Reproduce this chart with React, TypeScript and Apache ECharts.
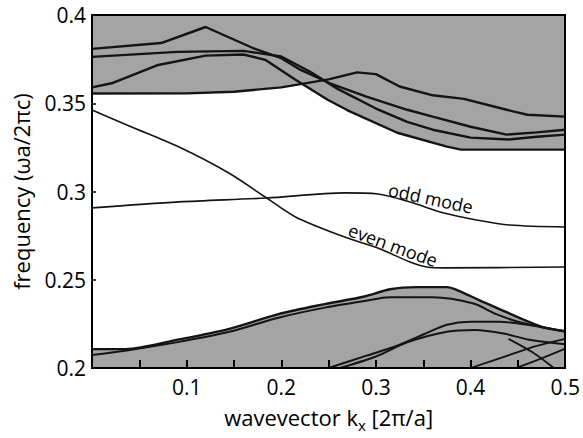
import { useEffect, useRef } from 'react';
import * as echarts from 'echarts';

const xTickLabels = ['0.1', '0.2', '0.3', '0.4', '0.5'];
const yTickLabels = ['0.2', '0.25', '0.3', '0.35', '0.4'];

// upper continuum (light-line region) lower edge
const topBandEdge = [[0, 0.3555], [0.1, 0.3556], [0.15, 0.3565], [0.2, 0.359], [0.222, 0.3607], [0.249, 0.352], [0.27, 0.346], [0.3225, 0.3333], [0.375, 0.3254], [0.39, 0.3237], [0.5, 0.3237]];
const bandB = [[0, 0.3555], [0.1, 0.3556], [0.15, 0.3565], [0.2, 0.359], [0.25, 0.3635], [0.28, 0.3675], [0.3, 0.3665], [0.325, 0.3595], [0.36, 0.3545], [0.393, 0.3525], [0.438, 0.3463], [0.46, 0.3435], [0.5, 0.3424]];
const bandL1 = [[0, 0.3808], [0.073, 0.3841], [0.12, 0.3932], [0.17, 0.3813], [0.2, 0.3755], [0.22, 0.369], [0.25, 0.3616], [0.29, 0.3537], [0.333, 0.3463], [0.36, 0.3424], [0.4, 0.3367], [0.438, 0.3322], [0.47, 0.3335], [0.5, 0.335]];
const bandC = [[0, 0.3763], [0.09, 0.3791], [0.16, 0.3797], [0.2, 0.3765], [0.23, 0.368], [0.26, 0.358], [0.3, 0.347], [0.333, 0.3395], [0.36, 0.335], [0.4, 0.3305], [0.44, 0.3295], [0.47, 0.331], [0.5, 0.3322]];
const bandD = [[0, 0.359], [0.022, 0.3615], [0.07, 0.3717], [0.12, 0.377], [0.16, 0.3776], [0.183, 0.3746], [0.215, 0.3633], [0.249, 0.352], [0.27, 0.346], [0.3225, 0.3333], [0.375, 0.3254], [0.39, 0.3237], [0.5, 0.3237]];

// lower continuum
const bandBT1 = [[0, 0.2107], [0.035, 0.2107], [0.092, 0.2162], [0.145, 0.2222], [0.197, 0.2305], [0.246, 0.2362], [0.288, 0.2405], [0.315, 0.2446], [0.343, 0.2458], [0.375, 0.2458], [0.385, 0.2443], [0.409, 0.2385], [0.438, 0.2316], [0.476, 0.2232], [0.5, 0.2209]];
const bandBT2 = [[0, 0.2073], [0.035, 0.2098], [0.092, 0.2148], [0.145, 0.2205], [0.197, 0.2285], [0.246, 0.2342], [0.288, 0.238], [0.315, 0.2401], [0.36, 0.2401], [0.403, 0.2365], [0.427, 0.2305], [0.455, 0.2255], [0.5, 0.2209]];
const bandBR1 = [[0.25, 0.2], [0.29, 0.207], [0.3225, 0.2126], [0.35, 0.219], [0.375, 0.2245], [0.4, 0.2262], [0.43, 0.2262], [0.46, 0.2245], [0.5, 0.2205]];
const bandBR2 = [[0.262, 0.2], [0.3, 0.2065], [0.333, 0.2145], [0.375, 0.2205], [0.405, 0.2215], [0.435, 0.2195], [0.462, 0.216], [0.5, 0.2135]];
const bandBX1 = [[0.4, 0.2], [0.44, 0.2072], [0.47, 0.2125], [0.5, 0.2165]];
const bandBX2 = [[0.448, 0.2], [0.475, 0.2055], [0.5, 0.211]];
const bandBX3 = [[0.44, 0.2165], [0.465, 0.209], [0.488, 0.2]];

// guided modes
const evenMode = [[0, 0.3462], [0.04, 0.337], [0.092, 0.3252], [0.1445, 0.3105], [0.183, 0.2969], [0.215, 0.2856], [0.267, 0.2742], [0.302, 0.268], [0.336, 0.2601], [0.354, 0.2572], [0.372, 0.2567], [0.5, 0.2572]];
const oddMode = [[0, 0.2907], [0.092, 0.2941], [0.184, 0.2963], [0.267, 0.2992], [0.302, 0.2986], [0.336, 0.294], [0.372, 0.2878], [0.406, 0.2839], [0.441, 0.281], [0.5, 0.2799]];

const oddLabelAt = [0.358, 0.2963];
const evenLabelAt = [0.318, 0.2697];

const FONT = 'Open Sans';
const SHADE = '#a4a4a4';
const INK = '#141414';

export default function App() {
  const ref = useRef<HTMLDivElement>(null);
  useEffect(() => {
    if (!ref.current) return;
    const chart = echarts.init(ref.current, null, { renderer: 'svg' });
    const frameLine = { show: true, onZero: false, lineStyle: { color: '#000', width: 2 } };
    const line = (data: number[][], width = 2.2, smooth: number | boolean = false, z = 3) => ({
      type: 'line', data, symbol: 'none', showSymbol: false, smooth, z,
      lineStyle: { color: INK, width }, silent: true,
    });
    chart.setOption({
      animation: false,
      backgroundColor: '#fff',
      grid: { left: 92, right: 14, top: 15, bottom: 70 },
      xAxis: [
        {
          type: 'value', min: 0, max: 0.5, interval: 0.05, position: 'bottom', z: 10,
          axisLine: frameLine,
          axisTick: { show: true, inside: true, length: 8, lineStyle: { color: '#000', width: 2 } },
          splitLine: { show: false },
          axisLabel: {
            margin: 8, fontSize: 21, fontFamily: FONT, color: '#000',
            formatter: (v: number) => {
              const k = Math.round(v * 10);
              return Math.abs(v * 10 - k) < 1e-6 && k > 0 ? xTickLabels[k - 1] : '';
            },
          },
          name: '{a|wavevector k}{s|x}{a| [2π/a]}',
          nameLocation: 'middle', nameGap: 34,
          nameTextStyle: {
            fontFamily: FONT, fontSize: 22, color: '#000',
            rich: {
              a: { fontFamily: FONT, fontSize: 22, color: '#000', lineHeight: 30 },
              s: { fontFamily: FONT, fontSize: 15, color: '#000', lineHeight: 12, verticalAlign: 'bottom' },
            },
          },
        },
        {
          type: 'value', min: 0, max: 0.5, position: 'top', z: 10,
          axisLine: frameLine, axisTick: { show: false }, axisLabel: { show: false }, splitLine: { show: false },
        },
      ],
      yAxis: [
        {
          type: 'value', min: 0.2, max: 0.4, interval: 0.05, position: 'left', z: 10,
          axisLine: frameLine,
          axisTick: { show: true, inside: true, length: 4, lineStyle: { color: '#000', width: 1.5 } },
          splitLine: { show: false },
          axisLabel: {
            margin: 6, fontSize: 21, fontFamily: FONT, color: '#000',
            formatter: (v: number) => yTickLabels[Math.round((v - 0.2) / 0.05)] ?? '',
          },
          name: 'frequency (ωa/2πc)', nameLocation: 'middle', nameGap: 60, nameRotate: 90,
          nameTextStyle: { fontFamily: FONT, fontSize: 22, color: '#000' },
        },
        {
          type: 'value', min: 0.2, max: 0.4, position: 'right', z: 10,
          axisLine: frameLine, axisTick: { show: false }, axisLabel: { show: false }, splitLine: { show: false },
        },
      ],
      series: [
        {
          type: 'line', data: topBandEdge, symbol: 'none', showSymbol: false, z: 1, silent: true,
          lineStyle: { width: 0 }, areaStyle: { color: SHADE, opacity: 1, origin: 'end' },
        },
        {
          type: 'line', data: bandBT1, symbol: 'none', showSymbol: false, z: 2, silent: true, smooth: 0.3,
          lineStyle: { color: INK, width: 2.4 }, areaStyle: { color: SHADE, opacity: 1, origin: 'start' },
        },
        line(bandB, 2.4),
        line(bandL1, 2.4),
        line(bandC, 2.4),
        line(bandD, 2.4),
        line(bandBT2, 2, 0.3),
        line(bandBR1, 2, 0.3),
        line(bandBR2, 2, 0.3),
        line(bandBX1, 1.8, 0.3),
        line(bandBX2, 1.8, 0.3),
        line(bandBX3, 1.8, 0.3),
        line(evenMode, 1.6, 0.3),
        line(oddMode, 1.6, 0.3),
      ],
    });
    const po = chart.convertToPixel({ gridIndex: 0 }, oddLabelAt) as number[];
    const pe = chart.convertToPixel({ gridIndex: 0 }, evenLabelAt) as number[];
    chart.setOption({
      graphic: [
        {
          type: 'text', x: po[0], y: po[1], rotation: -0.21, z: 20,
          style: { text: 'odd mode', fontFamily: FONT, fontSize: 18, fill: '#000', align: 'center', verticalAlign: 'middle' },
        },
        {
          type: 'text', x: pe[0], y: pe[1], rotation: -0.35, z: 20,
          style: { text: 'even mode', fontFamily: FONT, fontSize: 18, fill: '#000', align: 'center', verticalAlign: 'middle' },
        },
      ],
    });
    return () => chart.dispose();
  }, []);
  return <div ref={ref} style={{ position: 'fixed', left: 0, top: 0, width: 583, height: 438, background: '#fff' }} />;
}
